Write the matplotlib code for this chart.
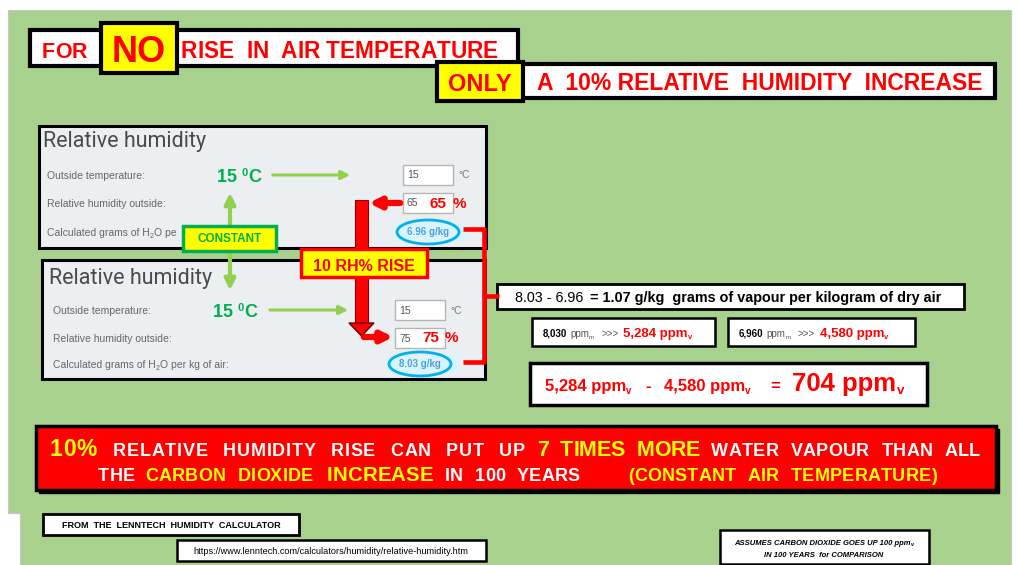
import matplotlib
matplotlib.use("Agg")
import matplotlib.pyplot as plt
from matplotlib.patches import Rectangle, Ellipse, Polygon, PathPatch
from matplotlib.path import Path

# values
temp_c = 15
rh_before, rh_after = 65, 75
g_per_kg = [6.96, 8.03]          # before, after
g_diff = 1.07
ppm_m = [8030, 6960]             # after, before
ppm_v = [5284, 4580]
ppm_diff = 704
co2_rise = 100
years = 100
rh_rise = 10
times_more = 7

LS = "Liberation Sans"
RED = "#ff0000"
YEL = "#ffff00"
GRN = "#00b050"
LGRN = "#92d050"
BG = "#a9d18e"
PANEL = "#eceff1"

fig = plt.figure(figsize=(10.18, 5.65), dpi=100)
ax = fig.add_axes([0, 0, 1, 1])
ax.set_xlim(0, 1018)
ax.set_ylim(565, 0)
ax.axis("off")
renderer = fig.canvas.get_renderer()

# green slide background
ax.add_patch(Polygon([(8, 10), (1011, 10), (1011, 565), (20, 565), (20, 513), (8, 513)],
                     closed=True, fc=BG, ec="#c8c8c8", lw=0.8, zorder=0))


def box(x0, y0, x1, y1, fc="white", ec="black", lw=2, z=2):
    ax.add_patch(Rectangle((x0, y0), x1 - x0, y1 - y0, fc=fc, ec=ec, lw=lw, zorder=z))


def width(s, kw):
    t = ax.text(0, 0, s, **kw)
    w = t.get_window_extent(renderer).width
    t.remove()
    return w


def runs(x, y, pieces, ha="left", z=6):
    # lay text pieces one after another on a common baseline
    placed = []
    cx = 0
    for s, kw in pieces:
        kw = dict(kw)
        dy = kw.pop("dy", 0)
        cx += kw.pop("pad", 0)
        kw.setdefault("family", LS)
        t = ax.text(0, y + dy, s, va="baseline", ha="left", zorder=z, **kw)
        placed.append((t, cx))
        cx += t.get_window_extent(renderer).width
    x0 = x - cx / 2 if ha == "center" else x
    for t, off in placed:
        t.set_x(x0 + off)


def spread(x0, x1, y, s, kw, words=False, z=6):
    # text stretched to run from x0 to x1; spaces take a bigger share when words=True
    kw = dict(kw)
    kw.setdefault("family", LS)
    sp = width("x x", kw) - width("xx", kw)
    ws = [sp if c == " " else width(c, kw) for c in s]
    wt = [(3.0 if (words and c == " ") else 1.0) for c in s[:-1]] + [0.0]
    extra = (x1 - x0 - sum(ws)) / sum(wt)
    cx = x0
    for c, w, k in zip(s, ws, wt):
        if c != " ":
            ax.text(cx, y, c, va="baseline", ha="left", zorder=z, **kw)
        cx += w + extra * k


# ---- headline boxes
T = dict(family=LS, weight="bold", color=RED)
box(30, 30, 518, 66, lw=3)
box(101, 23, 177, 73, fc=YEL, lw=3, z=3)
spread(42, 87, 58, "FOR", dict(T, size=15.5))
ax.text(139, 62, "NO", ha="center", va="baseline", size=26, zorder=6, **T)
spread(181, 498, 58, "RISE  IN  AIR TEMPERATURE", dict(T, size=16.3))

box(522, 64, 995, 98, lw=3, z=3)
box(437, 62, 523, 101, fc=YEL, lw=3, z=4)
ax.text(480, 91, "ONLY", ha="center", va="baseline", size=17, zorder=6, **T)
runs(537, 90, [(f"A  {rh_rise}% RELATIVE  HUMIDITY  INCREASE", dict(T, size=16.5))])

# ---- calculator panels
LAB = dict(size=7.5, color="#666666")
G = dict(weight="bold", color=GRN)


def panel(x0, y0, x1, y1, title_y, rows_y, lab_x, temp_x, arrow, inp_x, rh, g, tail):
    box(x0, y0, x1, y1, fc=PANEL, lw=2.2)
    ax.text(lab_x - 4, title_y, "Relative humidity", family="Roboto",
            size=15.5, color="#4a4a4a", va="baseline", zorder=6)
    r1, r2, r3 = rows_y
    runs(lab_x, r1 + 4, [("Outside temperature:", LAB)])
    runs(lab_x, r2 + 4, [("Relative humidity outside:", LAB)])
    runs(lab_x, r3 + 4, [("Calculated grams of H", LAB), ("2", dict(LAB, size=5, dy=2)),
                         (tail, LAB)])
    runs(temp_x, r1 + 7, [(f"{temp_c} ", dict(G, size=13)), ("0", dict(G, size=8, dy=-6)),
                          ("C", dict(G, size=13))])
    ax.annotate("", xy=(arrow[1], r1), xytext=(arrow[0], r1), zorder=5,
                arrowprops=dict(arrowstyle="-|>", color=LGRN, lw=2.2, mutation_scale=13))
    box(inp_x, r1 - 10, inp_x + 50, r1 + 10, fc="white", ec="#b5b5b5", lw=1, z=3)
    box(inp_x, r2 - 10, inp_x + 50, r2 + 10, fc="white", ec="#b5b5b5", lw=1, z=3)
    runs(inp_x + 4, r1 + 3.5, [(f"{temp_c}", dict(size=7.5, color="#555555"))])
    runs(inp_x + 55, r1 + 3.5, [("°C", dict(size=7.5, color="#777777"))])
    runs(inp_x + 4, r2 + 3.5, [(f"{rh}", dict(size=7.5, color="#555555"))])
    runs(inp_x + 27, r2 + 4.5, [(f"{rh}", dict(T, size=11)), ("%", dict(T, size=11, pad=6))])
    ex = inp_x + 25
    box(ex - 33, r3 - 9, ex + 40, r3 + 9, fc="#d9f5fb", ec="none", lw=0, z=3)
    ax.add_patch(Ellipse((ex, r3), 62, 24, fill=False, ec="#00b0f0", lw=2, zorder=5))
    ax.text(ex, r3 + 3, f"{g:.2f} g/kg", ha="center", va="baseline", size=7,
            weight="bold", color="#4b9fe1", family=LS, zorder=6)


panel(39, 126, 486, 248, 147, (175, 203, 232), 47, 217, (270, 353), 403,
      rh_before, g_per_kg[0], "O pe")
panel(42, 260, 485, 379, 284, (310, 338, 364), 53, 213, (267, 351), 395,
      rh_after, g_per_kg[1], "O per kg of air:")

# constant temperature marker
ax.annotate("", xy=(230, 190), xytext=(230, 293), zorder=7,
            arrowprops=dict(arrowstyle="<|-|>", color=LGRN, lw=3, mutation_scale=16))
box(183, 226, 276, 251, fc=YEL, ec=GRN, lw=2.5, z=8)
ax.text(229.5, 242.5, "CONSTANT", ha="center", va="baseline", size=8.5, weight="bold",
        color=GRN, family=LS, zorder=9)

# red RH step arrow
ax.annotate("", xy=(366, 203), xytext=(403, 203), zorder=7,
            arrowprops=dict(arrowstyle="-|>", color=RED, lw=4.5, mutation_scale=16))
box(355, 200, 368, 324, fc=RED, ec="#8b0000", lw=0.8, z=7)
ax.add_patch(Polygon([(349, 323), (374, 323), (361.5, 336)], closed=True,
                     fc=RED, ec="#6b0000", lw=1, zorder=7))
ax.annotate("", xy=(396, 337), xytext=(361, 337), zorder=7,
            arrowprops=dict(arrowstyle="-|>", color=RED, lw=4.5, mutation_scale=16))
box(301, 249, 427, 277, fc=YEL, ec=RED, lw=2.5, z=8)
ax.text(364, 271, f"{rh_rise} RH% RISE", ha="center", va="baseline", size=11.5,
        weight="bold", color=RED, family=LS, zorder=9)

# red brace joining the two results
brace = Path([(463, 229), (484, 229), (484, 362), (463, 362), (484, 296), (499, 296)],
             [Path.MOVETO, Path.LINETO, Path.LINETO, Path.LINETO, Path.MOVETO, Path.LINETO])
ax.add_patch(PathPatch(brace, fill=False, ec=RED, lw=3.3, joinstyle="round", zorder=7))

# ---- right hand working
box(497, 284, 964, 309, lw=2)
B = dict(size=10.4, color="black")
runs(515, 302, [(f"{g_per_kg[1]:.2f} - {g_per_kg[0]:.2f}", B),
                (f"= {g_diff:.2f} g/kg  grams of vapour per kilogram of dry air",
                 dict(B, weight="bold", pad=7))])

R = dict(weight="bold", color=RED)
GR = dict(size=7, color="#555555")
for bx0, bx1, pm, pv in [(532, 715, ppm_m[0], ppm_v[0]), (728, 915, ppm_m[1], ppm_v[1])]:
    box(bx0, 318, bx1, 346, lw=1.8)
    runs(bx0 + 11, 337, [(f"{pm:,}", dict(size=7, weight="bold", color="black")),
                         ("ppm", dict(GR, pad=3)), ("m", dict(GR, size=4.5, dy=2)),
                         (">>>", dict(GR, pad=7)),
                         (f"{pv:,} ppm", dict(R, size=9.5, pad=5)),
                         ("v", dict(R, size=5.5, dy=2))])

box(530, 363, 927, 405, lw=2.5)
runs(545, 391, [(f"{ppm_v[0]:,} ppm", dict(R, size=12)), ("v", dict(R, size=7, dy=3)),
                ("-", dict(R, size=12, pad=14)),
                (f"{ppm_v[1]:,} ppm", dict(R, size=12, pad=13)), ("v", dict(R, size=7, dy=3)),
                ("=", dict(R, size=12, pad=20)),
                (f"{ppm_diff} ppm", dict(R, size=18.5, pad=12)), ("v", dict(R, size=9.5, dy=3))])

# ---- conclusion banner
box(39, 429, 999, 493, fc="black", ec="black", lw=1, z=2)
box(36, 426, 996, 490, fc=RED, ec="black", lw=2.5, z=3)
Y = dict(weight="bold", color=YEL)
W = dict(weight="bold", color="white")
spread(50, 97, 456, f"{rh_rise}%", dict(Y, size=16.5))
spread(113, 525, 456, "RELATIVE  HUMIDITY  RISE  CAN  PUT  UP", dict(W, size=13), words=True)
spread(537, 700, 456, f"{times_more}  TIMES  MORE", dict(Y, size=15.5), words=True)
spread(711, 980, 456, "WATER  VAPOUR  THAN  ALL", dict(W, size=13), words=True)
spread(98, 135, 481, "THE", dict(W, size=13))
spread(145, 313, 481, "CARBON  DIOXIDE", dict(Y, size=13), words=True)
spread(327, 433, 481, "INCREASE", dict(Y, size=14.7))
spread(445, 580, 481, f"IN  {years}  YEARS", dict(W, size=13), words=True)
spread(628, 937, 481, "(CONSTANT  AIR  TEMPERATURE)", dict(Y, size=13), words=True)

# ---- footnotes
box(43, 514, 299, 535, lw=2)
ax.text(171, 527.5, "FROM  THE  LENNTECH  HUMIDITY  CALCULATOR", ha="center", va="baseline",
        size=6.5, weight="bold", family=LS, zorder=6)
box(177, 540, 486, 561, lw=1.8)
ax.text(331, 553.5, "https://www.lenntech.com/calculators/humidity/relative-humidity.htm",
        ha="center", va="baseline", size=6.6, family=LS, zorder=6)
box(720, 530, 929, 564, lw=1.8)
FI = dict(size=5.5, weight="bold", style="italic")
runs(824, 545, [(f"ASSUMES CARBON DIOXIDE GOES UP {co2_rise} ppm", FI),
                ("v", dict(FI, size=4, dy=1.5))], ha="center")
runs(824, 557, [(f"IN {years} YEARS  for COMPARISON", FI)], ha="center")

fig.savefig("out.png", dpi=100)
